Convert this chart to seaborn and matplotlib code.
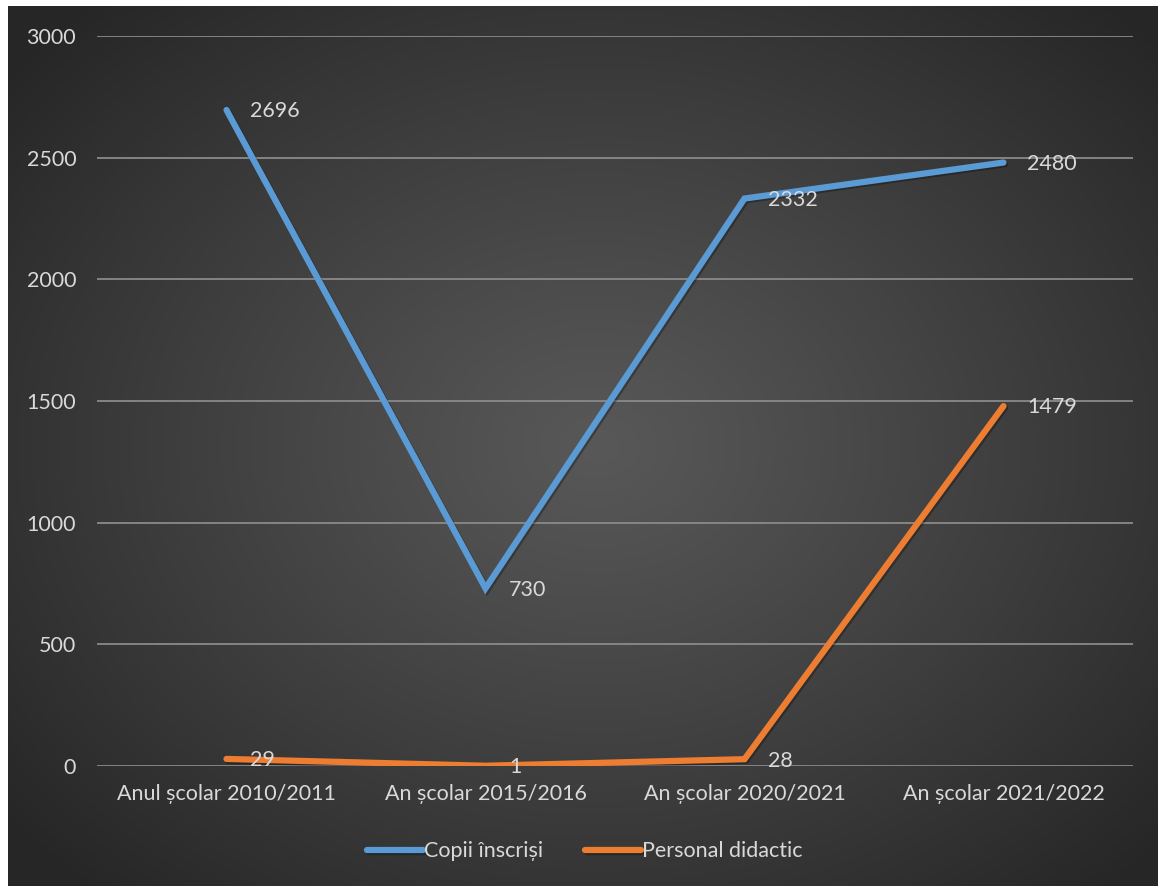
import numpy as np
import pandas as pd
import matplotlib
matplotlib.use("Agg")
import matplotlib.pyplot as plt
import matplotlib.patheffects as pe
import seaborn as sns

# date
ani = ["Anul școlar 2010/2011", "An școlar 2015/2016", "An școlar 2020/2021", "An școlar 2021/2022"]
copii = [2696, 730, 2332, 2480]
personal = [29, 1, 28, 1479]
serii = ["Copii înscriși", "Personal didactic"]
culori = ["#5b9bd5", "#ed7d31"]

df = pd.DataFrame({
    "An": ani * 2,
    "Total": copii + personal,
    "Serie": [serii[0]] * len(ani) + [serii[1]] * len(ani),
})

sns.set_theme(style="white")
plt.rcParams["font.family"] = ["Lato", "DejaVu Sans"]
text_col = "#d9d9d9"
fs = 15.5

fig = plt.figure(figsize=(11.58, 8.86), dpi=100, facecolor="white")

# fundal cu gradient radial (stil Excel)
bg = fig.add_axes([8 / 1158, 0, 1 - 8 / 1158, 1 - 6 / 886], zorder=0)
h, w = 880, 1150
yy, xx = np.mgrid[0:h, 0:w]
d = np.sqrt(((xx - 590) / 760) ** 2 + ((yy - 440) / 600) ** 2)
d = np.clip(d, 0, 1)
val = 0.345 - (0.345 - 0.15) * d ** 1.1
bg.imshow(np.dstack([val, val, val]), aspect="auto", extent=[0, 1, 0, 1])
bg.axis("off")

ax = fig.add_axes([97 / 1158, 1 - 766 / 886, (1133 - 97) / 1158, (766 - 36) / 886], zorder=1)
ax.patch.set_alpha(0)

sns.lineplot(data=df, x="An", y="Total", hue="Serie", palette=culori, linewidth=4.5,
             sort=False, ax=ax, legend=True)

umbra = [pe.SimpleLineShadow(offset=(1.2, -1.2), alpha=0.3, shadow_color="black"), pe.Normal()]
for ln in ax.get_lines():
    ln.set_solid_capstyle("round")
    ln.set_solid_joinstyle("miter")
    ln.set_path_effects(umbra)

for vals in (copii, personal):
    for i, v in enumerate(vals):
        ax.annotate(str(v), (i, v), xytext=(17, -1), textcoords="offset points",
                    ha="left", va="center", color=text_col, fontsize=fs)

ax.set_xlim(-0.5, 3.5)
ax.set_ylim(0, 3000)
ax.set_yticks(range(0, 3001, 500))
ax.grid(axis="y", color="#8a8a8a", linewidth=1.3)
ax.set_axisbelow(True)
for s in ax.spines.values():
    s.set_visible(False)
ax.tick_params(axis="both", length=0, colors=text_col, labelsize=fs)
ax.tick_params(axis="y", pad=15)
ax.tick_params(axis="x", pad=13)
ax.set_xlabel("")
ax.set_ylabel("")

leg = ax.legend(loc="center", bbox_to_anchor=(0.471, -0.117), ncol=2, frameon=False,
                fontsize=fs, handlelength=2.6, handletextpad=0.05, columnspacing=1.95)
for t in leg.get_texts():
    t.set_color(text_col)
for lh in leg.get_lines():
    lh.set_linewidth(4.5)
    lh.set_solid_capstyle("round")

fig.savefig("out.png", dpi=100, facecolor=fig.get_facecolor())
